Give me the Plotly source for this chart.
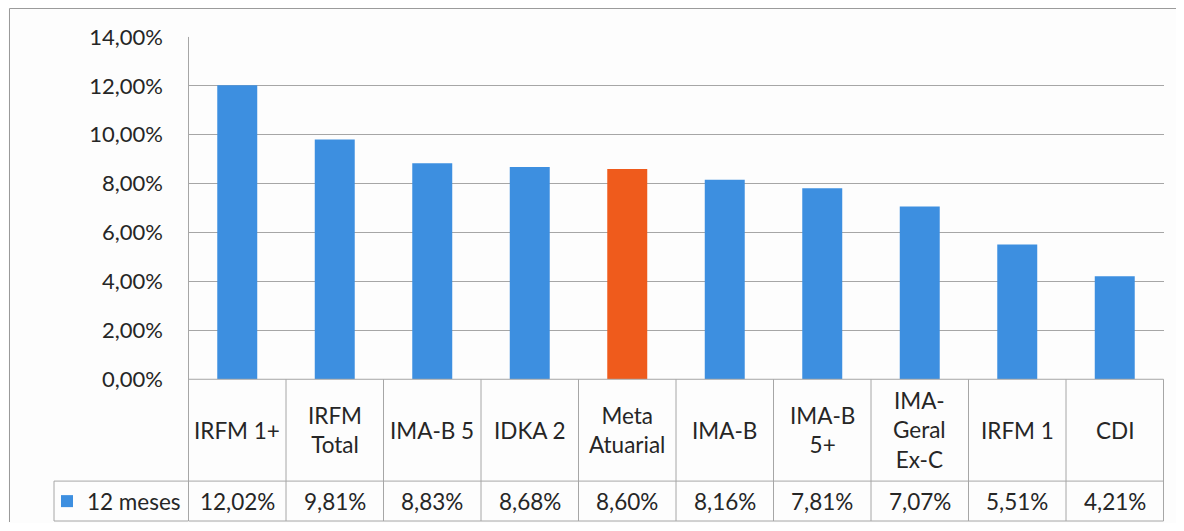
import plotly.graph_objects as go

# Data
categories = ["IRFM 1+", "IRFM Total", "IMA-B 5", "IDKA 2", "Meta Atuarial",
              "IMA-B", "IMA-B 5+", "IMA-Geral Ex-C", "IRFM 1", "CDI"]
header_labels = ["IRFM 1+", "IRFM<br>Total", "IMA-B 5", "IDKA 2", "Meta<br>Atuarial",
                 "IMA-B", "IMA-B<br>5+", "IMA-<br>Geral<br>Ex-C", "IRFM 1", "CDI"]
values_12m = [12.02, 9.81, 8.83, 8.68, 8.60, 8.16, 7.81, 7.07, 5.51, 4.21]
series_name = "12 meses"
highlight = "Meta Atuarial"

# page body has an 8px margin, so the figure is sized to fit inside the window
OFF = 8
W, H = 1168, 515
BLUE = "#3d8fe0"
ORANGE = "#ef5b1c"
GRID = "#a6a6a6"
TEXT = "#262626"
FONT = "Lato, 'Open Sans', sans-serif"


def px(x):
    # screen pixel x -> paper fraction
    return (x - OFF) / W


def py(y):
    # screen pixel y -> paper fraction
    return 1 - (y - OFF) / H


colors = [ORANGE if c == highlight else BLUE for c in categories]

fig = go.Figure(go.Bar(
    x=categories,
    y=[v / 100 for v in values_12m],
    marker=dict(color=colors, line=dict(width=0)),
    name=series_name,
    showlegend=True,
))

# data table under the plot
n = len(categories)
shapes = []
y_axis_px, y_mid_px, y_bot_px = 380, 482, 522
line_style = dict(color=GRID, width=1)
for i in range(n + 1):
    top = 37 if i == 0 else y_axis_px
    shapes.append(dict(type="line", xref="x", yref="paper",
                       x0=i - 0.5, x1=i - 0.5, y0=py(top), y1=py(y_bot_px),
                       line=line_style))
for yy in (y_axis_px, y_mid_px, y_bot_px):
    shapes.append(dict(type="line", xref="x", yref="paper",
                       x0=-0.5, x1=n - 0.5, y0=py(yy), y1=py(yy), line=line_style))
# legend cell
for yy in (y_mid_px, y_bot_px):
    shapes.append(dict(type="line", xref="paper", yref="paper",
                       x0=px(54), x1=px(188), y0=py(yy), y1=py(yy), line=line_style))
shapes.append(dict(type="line", xref="paper", yref="paper",
                   x0=px(54), x1=px(54), y0=py(y_mid_px), y1=py(y_bot_px),
                   line=line_style))
# outer chart border: only left and top edges fall inside the picture
frame = dict(color="#9a9a9a", width=1)
shapes.append(dict(type="line", xref="paper", yref="paper",
                   x0=px(9.5), x1=px(9.5), y0=0, y1=py(8.5), line=frame))
shapes.append(dict(type="line", xref="paper", yref="paper",
                   x0=px(9.5), x1=1, y0=py(8.5), y1=py(8.5), line=frame))

annotations = []
for cat, lab, v in zip(categories, header_labels, values_12m):
    annotations.append(dict(x=cat, xref="x", y=py(431), yref="paper",
                            text=lab, showarrow=False, yanchor="middle",
                            font=dict(size=22.5, color=TEXT, family=FONT)))
    annotations.append(dict(x=cat, xref="x", y=py(502), yref="paper",
                            text=f"{v:.2f}%".replace(".", ","), showarrow=False,
                            yanchor="middle",
                            font=dict(size=22.5, color=TEXT, family=FONT)))

fig.update_layout(
    template="none",
    width=W, height=H,
    autosize=False,
    margin=dict(l=0, r=0, t=0, b=0, pad=0),
    paper_bgcolor="#fdfdfd",
    plot_bgcolor="#fdfdfd",
    separators=",.",
    bargap=0.59,
    font=dict(family=FONT, color=TEXT, size=22),
    xaxis=dict(domain=[px(188), px(1164)], showticklabels=False, showgrid=False,
               zeroline=False, ticks="", showline=False, automargin=False),
    yaxis=dict(domain=[py(380), py(37)], range=[0, 0.14], dtick=0.02,
               tickformat=".2%", showgrid=True, gridcolor=GRID, gridwidth=1,
               zeroline=False, ticks="", showline=False, automargin=False,
               ticklabelstandoff=24,
               tickfont=dict(size=22, color=TEXT, family=FONT)),
    legend=dict(x=px(47), xanchor="left", y=py(502), yanchor="middle",
                bgcolor="rgba(0,0,0,0)", font=dict(size=22.5, color=TEXT, family=FONT),
                itemwidth=30, tracegroupgap=0, borderwidth=0),
    shapes=shapes,
    annotations=annotations,
)

fig.write_html("out.html")
